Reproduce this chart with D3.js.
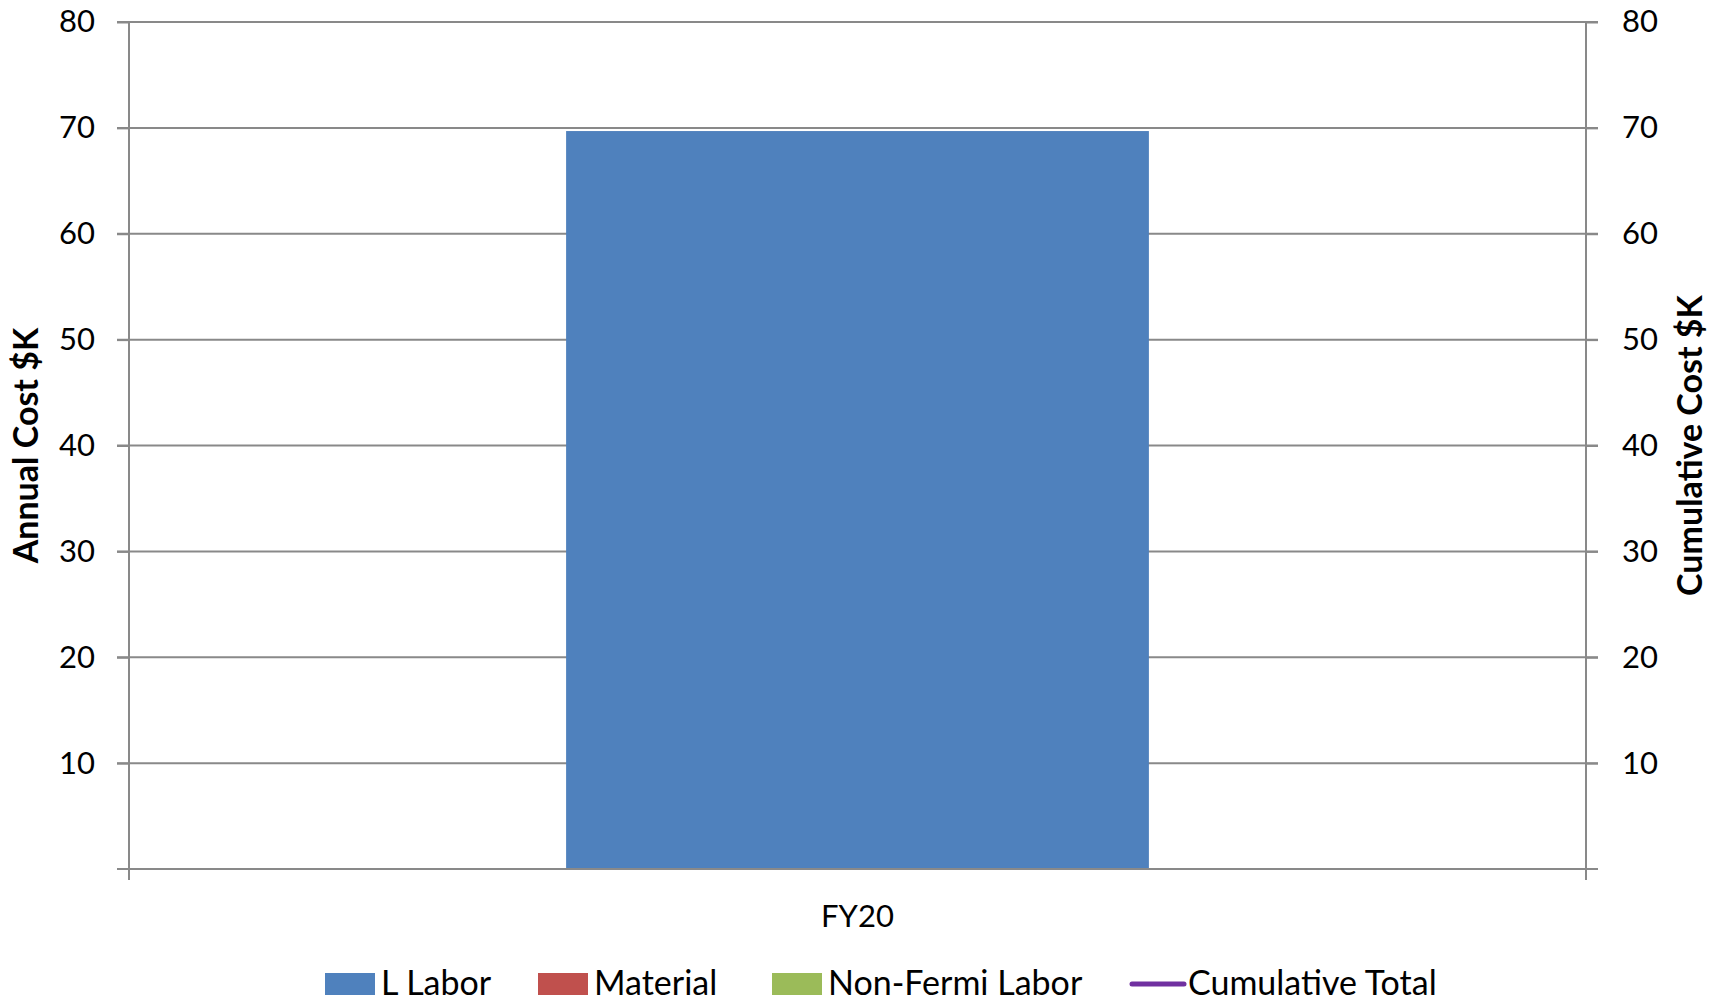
<!DOCTYPE html>
<html>
<head>
<meta charset="utf-8">
<script src="https://cdn.jsdelivr.net/npm/d3@7"></script>
<style>
  body { margin: 0; background: #fff; }
  svg { display: block; font-family: Lato, "Noto Sans", sans-serif; }
  .tick text { font-family: Lato, "Noto Sans", sans-serif; font-size: 31px; fill: #000; }
  .axis-title { font-size: 34px; font-weight: bold; }
  .legend text { font-size: 34px; }
</style>
</head>
<body>
<svg width="1721" height="1003"></svg>
<script>
// chart data
const categories = ["FY20"];
const lLabor = [69.7];
const material = [0];
const nonFermiLabor = [0];
const cumulativeTotal = [69.7];
const yTicks = [10, 20, 30, 40, 50, 60, 70, 80];

const seriesNames = ["L Labor", "Material", "Non-Fermi Labor", "Cumulative Total"];
const colors = ["#4F81BD", "#C0504D", "#9BBB59", "#7030A0"];

const svg = d3.select("svg");
const margin = { left: 129, right: 1721 - 1586, top: 22, bottom: 1003 - 869 };
const width = 1721 - margin.left - margin.right;
const height = 1003 - margin.top - margin.bottom;

const g = svg.append("g")
  .attr("transform", "translate(" + margin.left + "," + margin.top + ")");

const x = d3.scaleBand()
  .domain(categories)
  .range([0, width])
  .paddingInner(0.6)
  .paddingOuter(0.3);

const y = d3.scaleLinear().domain([0, 80]).range([height, 0]);
const y2 = d3.scaleLinear().domain([0, 80]).range([height, 0]);

const gridColor = "#898989";

// gridlines
g.append("g")
  .selectAll("line")
  .data(yTicks)
  .enter()
  .append("line")
  .attr("x1", -12)
  .attr("x2", width + 12)
  .attr("y1", d => y(d))
  .attr("y2", d => y(d))
  .attr("stroke", gridColor)
  .attr("stroke-width", 2);

// stacked bars
const stacks = categories.map((c, i) => ({ cat: c, vals: [lLabor[i], material[i], nonFermiLabor[i]] }));
stacks.forEach(s => {
  let base = 0;
  s.vals.forEach((v, k) => {
    g.append("rect")
      .attr("x", x(s.cat))
      .attr("width", x.bandwidth())
      .attr("y", y(base + v))
      .attr("height", y(base) - y(base + v))
      .attr("fill", colors[k]);
    base += v;
  });
});

// cumulative line (secondary axis)
const line = d3.line()
  .x((d, i) => x(categories[i]) + x.bandwidth() / 2)
  .y(d => y2(d));
g.append("path")
  .datum(cumulativeTotal)
  .attr("fill", "none")
  .attr("stroke", colors[3])
  .attr("stroke-width", 4)
  .attr("d", line);

// left axis
const leftAxis = g.append("g")
  .call(d3.axisLeft(y).tickValues(yTicks).tickSize(12).tickPadding(22));
leftAxis.select(".domain").remove();
leftAxis.selectAll(".tick line").attr("stroke", gridColor).attr("stroke-width", 2);

// right axis
const rightAxis = g.append("g")
  .attr("transform", "translate(" + width + ",0)")
  .call(d3.axisRight(y2).tickValues(yTicks).tickSize(12).tickPadding(24));
rightAxis.select(".domain").remove();
rightAxis.selectAll(".tick line").attr("stroke", gridColor).attr("stroke-width", 2);

// vertical axis lines
[0, width].forEach(xx => {
  g.append("line")
    .attr("x1", xx).attr("x2", xx)
    .attr("y1", 0).attr("y2", height + 11)
    .attr("stroke", gridColor).attr("stroke-width", 2);
});

// bottom axis
const bottomAxis = g.append("g")
  .attr("transform", "translate(0," + height + ")")
  .call(d3.axisBottom(x).tickSize(0).tickPadding(36));
bottomAxis.select(".domain")
  .attr("d", "M-12,0H" + (width + 12))
  .attr("stroke", gridColor).attr("stroke-width", 2);

// axis titles
svg.append("text")
  .attr("class", "axis-title")
  .attr("transform", "translate(38," + (margin.top + height / 2) + ") rotate(-90)")
  .attr("text-anchor", "middle")
  .text("Annual Cost $K");

svg.append("text")
  .attr("class", "axis-title")
  .attr("transform", "translate(1702," + (margin.top + height / 2) + ") rotate(-90)")
  .attr("text-anchor", "middle")
  .text("Cumulative Cost $K");

// legend
const legendX = [325, 538, 772, 1130];
const legend = svg.append("g").attr("class", "legend");
seriesNames.forEach((name, i) => {
  const item = legend.append("g").attr("transform", "translate(" + legendX[i] + ",984)");
  if (i < 3) {
    item.append("rect")
      .attr("x", 0).attr("y", -11)
      .attr("width", 50).attr("height", 22)
      .attr("fill", colors[i]);
  } else {
    item.append("line")
      .attr("x1", 2).attr("x2", 54)
      .attr("y1", 0).attr("y2", 0)
      .attr("stroke", colors[i])
      .attr("stroke-width", 5)
      .attr("stroke-linecap", "round");
  }
  item.append("text")
    .attr("x", i < 3 ? 56 : 58)
    .attr("y", 11)
    .text(name);
});
</script>
</body>
</html>
